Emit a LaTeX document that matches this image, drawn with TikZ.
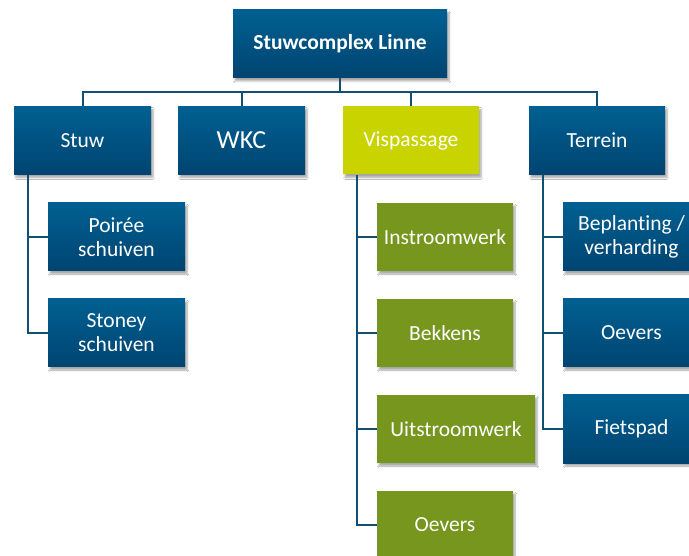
\documentclass[tikz,border=0pt]{standalone}
\usepackage{fontspec}
\setmainfont{Carlito}[Ligatures=NoCommon]
\usetikzlibrary{positioning, shadows.blur}
\definecolor{bluetop}{RGB}{0,96,146}
\definecolor{bluebot}{RGB}{0,68,112}
\definecolor{limegreen}{RGB}{200,211,0}
\definecolor{olivegreen}{RGB}{118,150,30}
\definecolor{linkblue}{RGB}{18,80,115}
\tikzset{
  box/.style={rectangle, draw=none, text=white, align=center,
              minimum width=137pt, minimum height=68pt, inner sep=1pt,
              font=\fontsize{21.5}{24}\selectfont,
              blur shadow={shadow xshift=2pt, shadow yshift=-3pt,
                           shadow blur steps=6, shadow opacity=35}},
  bluebox/.style={box, top color=bluetop, bottom color=bluebot},
  limebox/.style={box, fill=limegreen},
  greenbox/.style={box, fill=olivegreen},
  link/.style={draw=linkblue, line width=2pt},
}
\begin{document}
\begin{tikzpicture}[x=1pt, y=-1pt]
  \clip (0,0) rectangle (689,556);
  \fill[white] (0,0) rectangle (689,556);

  % top and first row
  \node[bluebox, minimum width=214pt, font=\fontsize{21.5}{24}\selectfont\bfseries]
    (linne) at (340,44) {Stuwcomplex Linne};
  \node[bluebox] (stuw) at (82.5,140.5) {Stuw};
  \node[bluebox, minimum width=127pt, font=\fontsize{26}{28}\selectfont] (wkc) at (241.5,140.5) {WKC};
  \node[limebox, minimum width=136pt] (visp) at (411,140.5) {Vispassage};
  \node[bluebox, minimum width=136pt] (terrein) at (597,140.5) {Terrein};

  % children of Stuw
  \node[bluebox] (poiree) at (116.5,237) {Poirée\\schuiven};
  \node[bluebox] (stoney) at (116.5,333) {Stoney\\schuiven};

  % children of Vispassage
  \node[greenbox, minimum width=136pt] (instroom) at (445,237) {Instroomwerk};
  \node[greenbox, minimum width=136pt] (bekkens) at (445,333) {Bekkens};
  \node[greenbox, minimum width=158pt] (uitstroom) at (456,429) {Uitstroomwerk};
  \node[greenbox, minimum width=136pt] (voevers) at (445,525) {Oevers};

  % children of Terrein
  \node[bluebox] (beplanting) at (631.5,237) {Beplanting /\\verharding};
  \node[bluebox] (toevers) at (631.5,333) {Oevers};
  \node[bluebox] (fietspad) at (631.5,429) {Fietspad};

  % connectors
  \coordinate (bus) at (0,92);
  \draw[link] (linne.south) -- (linne.south |- bus);
  \draw[link] (stuw.north) |- (bus -| terrein.north) -- (terrein.north);
  \draw[link] (wkc.north) -- (wkc.north |- bus);
  \draw[link] (visp.north) -- (visp.north |- bus);

  \coordinate (stuwleg) at (28,0);
  \draw[link] (stuw.south -| stuwleg) |- (stoney.west);
  \draw[link] (poiree.west) -- (poiree.west -| stuwleg);

  \coordinate (vispleg) at (357,0);
  \draw[link] (visp.south -| vispleg) |- (voevers.west);
  \draw[link] (instroom.west) -- (instroom.west -| vispleg);
  \draw[link] (bekkens.west) -- (bekkens.west -| vispleg);
  \draw[link] (uitstroom.west) -- (uitstroom.west -| vispleg);

  \coordinate (terrleg) at (543,0);
  \draw[link] (terrein.south -| terrleg) |- (fietspad.west);
  \draw[link] (beplanting.west) -- (beplanting.west -| terrleg);
  \draw[link] (toevers.west) -- (toevers.west -| terrleg);
\end{tikzpicture}
\end{document}
